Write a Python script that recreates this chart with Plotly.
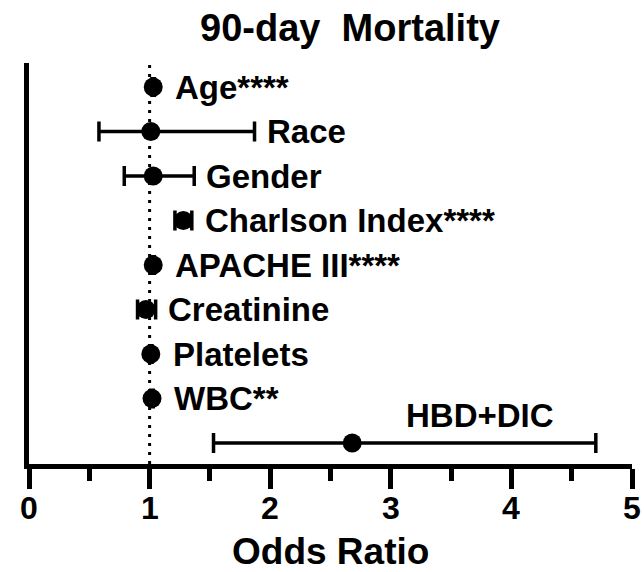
import plotly.graph_objects as go

# ---- data ----
labels = ["Age****", "Race", "Gender", "Charlson Index****", "APACHE III****",
          "Creatinine", "Platelets", "WBC**", "HBD+DIC"]
odds = [1.03, 1.01, 1.03, 1.28, 1.03, 0.97, 1.01, 1.02, 2.68]
ci_low = [1.02, 0.58, 0.79, 1.21, 1.02, 0.90, 1.00, 1.01, 1.53]
ci_high = [1.04, 1.87, 1.37, 1.35, 1.04, 1.05, 1.02, 1.03, 4.70]
x_ticks = [0, 1, 2, 3, 4, 5]
x_minor = [0.5, 1.5, 2.5, 3.5, 4.5]
x_title = "Odds Ratio"
chart_title = "90-day\u00a0 Mortality"
rows = list(range(len(labels), 0, -1))  # top to bottom

FONT = "Liberation Sans, Arial, sans-serif"

W, H = 644, 572
ML, MR, MT, MB = 29, 12, 63, 108
px_per_unit = (W - ML - MR) / 5.0

fig = go.Figure()
fig.add_trace(go.Scatter(
    x=odds, y=rows, mode="markers",
    marker=dict(size=19, color="black"),
    error_x=dict(type="data", symmetric=False,
                 array=[h - o for h, o in zip(ci_high, odds)],
                 arrayminus=[o - l for o, l in zip(odds, ci_low)],
                 thickness=3.5, width=10, color="black"),
    cliponaxis=False, hoverinfo="skip",
))

# labels to the right of each estimate (last one sits above its bar)
for lab, o, h, r in zip(labels[:-1], odds[:-1], ci_high[:-1], rows[:-1]):
    anchor = max(h, o + 10 / px_per_unit)
    fig.add_annotation(x=anchor, y=r, text=lab, showarrow=False,
                       xanchor="left", yanchor="middle", xshift=10, yshift=0,
                       font=dict(family=FONT, size=33, color="black", weight="bold"))
fig.add_annotation(x=3.74, y=rows[-1], text=labels[-1], showarrow=False,
                   xanchor="center", yanchor="middle", yshift=28,
                   font=dict(family=FONT, size=33, color="black", weight="bold"))

# x tick labels and axis title placed precisely below the axis
for t in x_ticks:
    fig.add_annotation(x=t, y=0, xref="x", yref="paper", text=str(t),
                       showarrow=False, xanchor="center", yanchor="middle",
                       yshift=-44,
                       font=dict(family=FONT, size=32, color="black", weight="bold"))
fig.add_annotation(x=0.5, y=0, xref="paper", yref="paper", text=x_title,
                   showarrow=False, xanchor="center", yanchor="middle",
                   yshift=-87,
                   font=dict(family=FONT, size=37, color="black", weight="bold"))

# reference line at OR = 1
fig.add_shape(type="line", xref="x", yref="paper", x0=1, x1=1, y0=0, y1=1,
              line=dict(color="black", width=3, dash="3px,6px"), layer="below")

fig.update_layout(
    width=W, height=H, margin=dict(l=ML, r=MR, t=MT, b=MB, autoexpand=False),
    plot_bgcolor="white", paper_bgcolor="white", showlegend=False,
    title=dict(text=chart_title, x=350 / W, xanchor="center",
               y=1 - 28 / H, yanchor="middle",
               font=dict(family=FONT, size=38, color="black", weight="bold")),
    xaxis=dict(range=[0, 5], tickvals=x_ticks, showticklabels=False,
               automargin=False,
               ticks="outside", ticklen=20, tickwidth=5, tickcolor="black",
               showline=True, linewidth=5, linecolor="black",
               showgrid=False, zeroline=False,
               minor=dict(tickvals=x_minor, ticks="outside", ticklen=12,
                          tickwidth=5, tickcolor="black", showgrid=False)),
    yaxis=dict(range=[0.528, 9.54], automargin=False,
               showline=True, linewidth=5, linecolor="black",
               ticks="", showticklabels=False, showgrid=False, zeroline=False),
)

fig.write_html("out.html")
